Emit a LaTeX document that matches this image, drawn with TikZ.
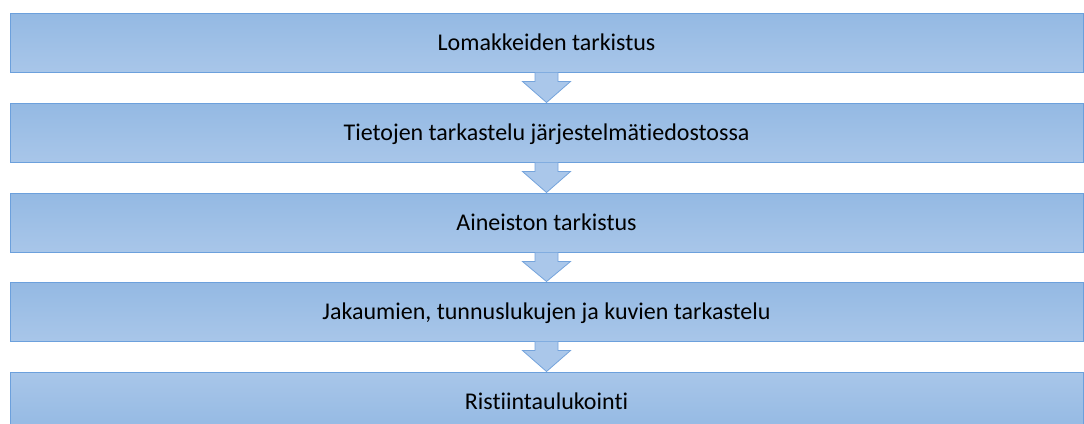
\documentclass[tikz,border=0pt]{standalone}
\usepackage{fontspec}
\setmainfont{Carlito}[Ligatures=NoCommon]
\usetikzlibrary{calc}
\definecolor{boxdark}{RGB}{148,185,227}
\definecolor{boxlight}{RGB}{168,198,233}
\definecolor{boxline}{RGB}{108,160,220}
\definecolor{arrfill}{RGB}{170,199,234}
\definecolor{arrline}{RGB}{117,164,220}
\tikzset{
  stage/.style={draw=boxline, line width=1pt, top color=boxdark, bottom color=boxlight,
    minimum width=1073pt, minimum height=59pt, inner sep=0pt,
    font=\fontsize{24}{28}\selectfont, text=black, text height=15.4pt, text depth=0pt},
  laststage/.style={stage, top color=boxlight, bottom color=boxdark},
  flowarrow/.style={draw=arrline, line width=0.8pt, fill=arrfill, line join=miter}
}
\newcommand{\blockarrow}[2]{%
  \path[flowarrow] ($(#1.south)+(-11.5,0)$) -- ($(#1.south)+(-11.5,9)$) -- ($(#1.south)+(-24,9)$)
    -- (#2.north) -- ($(#1.south)+(24,9)$) -- ($(#1.south)+(11.5,9)$) -- ($(#1.south)+(11.5,0)$);%
}
\begin{document}
\begin{tikzpicture}[x=1pt,y=-1pt]
\useasboundingbox (0,0) rectangle (1084,423);
\clip (0,0) rectangle (1084,423);
\node[stage] (b1) at (546.5,42.5) {Lomakkeiden tarkistus};
\node[stage] (b2) at (546.5,132.5) {Tietojen tarkastelu järjestelmätiedostossa};
\node[stage] (b3) at (546.5,222.5) {Aineiston tarkistus};
\node[stage] (b4) at (546.5,311.5) {Jakaumien, tunnuslukujen ja kuvien tarkastelu};
\node[laststage] (b5) at (546.5,401.5) {Ristiintaulukointi};
\blockarrow{b1}{b2}
\blockarrow{b2}{b3}
\blockarrow{b3}{b4}
\blockarrow{b4}{b5}
\end{tikzpicture}
\end{document}
